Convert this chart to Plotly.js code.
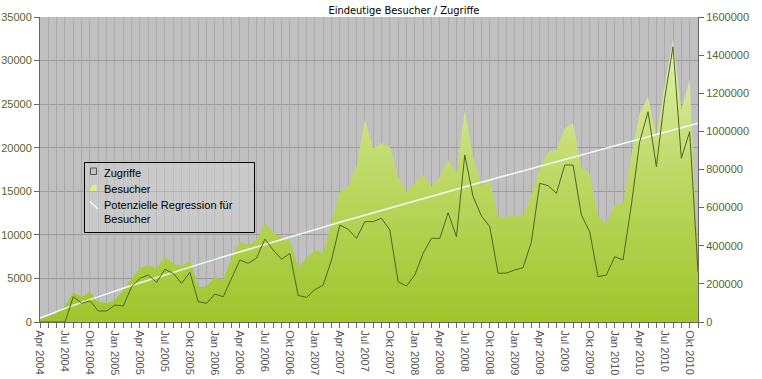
<!DOCTYPE html>
<html><head><meta charset="utf-8">
<script src="https://cdn.plot.ly/plotly-3.0.1.min.js"></script>
<style>html,body{margin:0;padding:0;background:#fff}#chart{width:762px;height:379px}</style>
</head><body><div id="chart"></div>
<script>
const chartTitle = "Eindeutige Besucher / Zugriffe";
const months = [
"Apr 2004","Mai 2004","Jun 2004","Jul 2004","Aug 2004","Sep 2004","Okt 2004","Nov 2004","Dez 2004",
"Jan 2005","Feb 2005","Mär 2005","Apr 2005","Mai 2005","Jun 2005","Jul 2005","Aug 2005","Sep 2005","Okt 2005","Nov 2005","Dez 2005",
"Jan 2006","Feb 2006","Mär 2006","Apr 2006","Mai 2006","Jun 2006","Jul 2006","Aug 2006","Sep 2006","Okt 2006","Nov 2006","Dez 2006",
"Jan 2007","Feb 2007","Mär 2007","Apr 2007","Mai 2007","Jun 2007","Jul 2007","Aug 2007","Sep 2007","Okt 2007","Nov 2007","Dez 2007",
"Jan 2008","Feb 2008","Mär 2008","Apr 2008","Mai 2008","Jun 2008","Jul 2008","Aug 2008","Sep 2008","Okt 2008","Nov 2008","Dez 2008",
"Jan 2009","Feb 2009","Mär 2009","Apr 2009","Mai 2009","Jun 2009","Jul 2009","Aug 2009","Sep 2009","Okt 2009","Nov 2009","Dez 2009",
"Jan 2010","Feb 2010","Mär 2010","Apr 2010","Mai 2010","Jun 2010","Jul 2010","Aug 2010","Sep 2010","Okt 2010","Nov 2010"
];
// Eindeutige Besucher (left axis)
const besucher = [
320,620,1000,1800,3400,2900,3480,2330,2140,
2520,3670,5010,6160,6540,6160,7500,6730,6350,7110,4050,4050,
5200,4820,7310,9210,8840,9410,11330,10360,9600,9410,6350,7300,
8260,7880,11330,14950,15530,17820,23180,19930,20500,20120,16670,14950,
15910,16870,15530,16670,18590,17060,24330,18970,15700,16400,12080,12080,
12200,12200,14570,17640,19540,19740,22230,22800,17640,17060,12080,11330,
13430,13620,19160,23950,25860,21270,27200,32360,24330,27770,7000
];
// Zugriffe (right axis)
const zugriffe = [
0,0,0,0,132700,98100,111700,57700,57700,
89200,83900,185200,229200,246600,208200,276400,255400,203000,260700,106500,98100,
146900,132700,229200,325200,307900,335000,435000,377700,328900,360300,139000,129400,
169700,194100,325200,508900,486100,439000,526300,526300,544000,482600,211400,188900,
246600,360300,439000,439000,573400,447500,876100,657300,556000,499900,255500,257000,
272800,284900,421300,727600,715000,675100,823600,823600,561300,473700,237600,246600,
342600,325200,613800,945800,1103200,814700,1173500,1444200,858700,998300,263900
];
const seriesNames = ["Zugriffe","Besucher","Potenzielle Regression für<br>Besucher"];

// power regression y = a * x^b on Besucher (x = 1..n)
let sx=0, sy=0, sxx=0, sxy=0; const n = besucher.length;
for (let k=0;k<n;k++){ const lx=Math.log(k+1), ly=Math.log(besucher[k]); sx+=lx; sy+=ly; sxx+=lx*lx; sxy+=lx*ly; }
const bExp = (n*sxy - sx*sy)/(n*sxx - sx*sx);
const aCoef = Math.exp((sy - bExp*sx)/n);
const regression = months.map((m,k)=> aCoef*Math.pow(k+1,bExp));

const tickText = months.map((m,k)=> k%3===0 ? m : "");
const FONT = "Liberation Sans, Arial, sans-serif";
const axisLabel = "#56652a";
const lineColor = "#4f6326";
const regColor = "#eefcff";

// plot area in pixels (for legend placement)
const PL = 40, PR = 698, PT = 17, PB = 322;
const px = v => (v - PL) / (PR - PL);
const py = v => (PB - v) / (PB - PT);

const traces = [
  {x: months, y: besucher, name: seriesNames[1], type: "scatter", mode: "lines", fill: "tozeroy",
   line: {width: 0, color: "#c8df6e"},
   fillgradient: {type: "vertical", start: 0, stop: 33000,
     colorscale: [[0,"#9fc52b"],[0.5,"#bdd864"],[1,"#e6f0b0"]]},
   fillcolor: "#c0da6a", showlegend: false, yaxis: "y"},
  {x: months, y: regression, name: seriesNames[2], type: "scatter", mode: "lines",
   line: {width: 1.5, color: regColor}, showlegend: false, yaxis: "y"},
  {x: months, y: zugriffe, name: seriesNames[0], type: "scatter", mode: "lines",
   line: {width: 1, color: lineColor}, showlegend: false, yaxis: "y2"}
];

const shapes = [
  {type: "rect", xref: "paper", yref: "paper", x0: px(84.5), x1: px(254.5), y0: py(162.5), y1: py(232.5),
   fillcolor: "rgba(222,222,222,0.35)", line: {color: "#000", width: 1}, layer: "above"},
  {type: "rect", xref: "paper", yref: "paper", x0: px(90.5), x1: px(96.5), y0: py(168), y1: py(174.5),
   fillcolor: "#c4c4c4", line: {color: "#555", width: 1}, layer: "above"},
  {type: "path", xref: "paper", yref: "paper", layer: "above",
   path: `M ${px(89.5)} ${py(191)} Q ${px(90)} ${py(184.5)} ${px(96.5)} ${py(184.5)} L ${px(96.5)} ${py(191)} Z`,
   fillcolor: "#dfec8a", line: {width: 0}},
  {type: "line", xref: "paper", yref: "paper", x0: px(90), y0: py(201.5), x1: px(98), y1: py(209),
   line: {color: regColor, width: 1.2}, layer: "above"}
];
const legText = (t, yPix) => ({text: t, xref: "paper", yref: "paper", x: px(102), y: py(yPix),
  xanchor: "left", yanchor: "middle", showarrow: false, align: "left",
  font: {family: FONT, size: 11, color: "#000"}});
const annotations = [
  legText(seriesNames[0], 172.5),
  legText(seriesNames[1], 188.5),
  legText(seriesNames[2], 211.5)
];

const layout = {
  width: 762, height: 379,
  margin: {l: 40, r: 64, t: 17, b: 57},
  paper_bgcolor: "#ffffff", plot_bgcolor: "#c0c0c0",
  title: {text: chartTitle, font: {family: "Liberation Sans Narrow, DejaVu Sans Condensed, Arial, sans-serif", size: 11, color: "#000"},
    xref: "paper", x: 0.553, xanchor: "center", yref: "container", y: 0.974, yanchor: "middle"},
  showlegend: false,
  shapes: shapes, annotations: annotations,
  xaxis: {type: "category", range: [0, 79], tickmode: "array", tickvals: months, ticktext: tickText,
    tickangle: 90, ticks: "outside", ticklen: 5, tickcolor: "#666", showline: true, linecolor: "#666",
    showgrid: true, gridcolor: "#acacac", gridwidth: 1, zeroline: false,
    tickfont: {family: FONT, size: 11, color: "#555"}, automargin: false, fixedrange: true},
  yaxis: {range: [0, 35000], tick0: 0, dtick: 5000, tickformat: "d", ticks: "outside", ticklen: 5,
    tickcolor: "#666", showline: true, linecolor: "#666", showgrid: true, gridcolor: "#9c9c9c",
    zeroline: false, tickfont: {family: FONT, size: 11, color: axisLabel}, automargin: false},
  yaxis2: {overlaying: "y", side: "right", range: [0, 1600000], tick0: 0, dtick: 200000, tickformat: "d",
    ticks: "outside", ticklen: 5, tickcolor: "#666", showline: true, linecolor: "#666", showgrid: false,
    zeroline: false, tickfont: {family: FONT, size: 11, color: axisLabel}, automargin: false}
};
Plotly.newPlot("chart", traces, layout, {displayModeBar: false, staticPlot: true});
</script></body></html>
